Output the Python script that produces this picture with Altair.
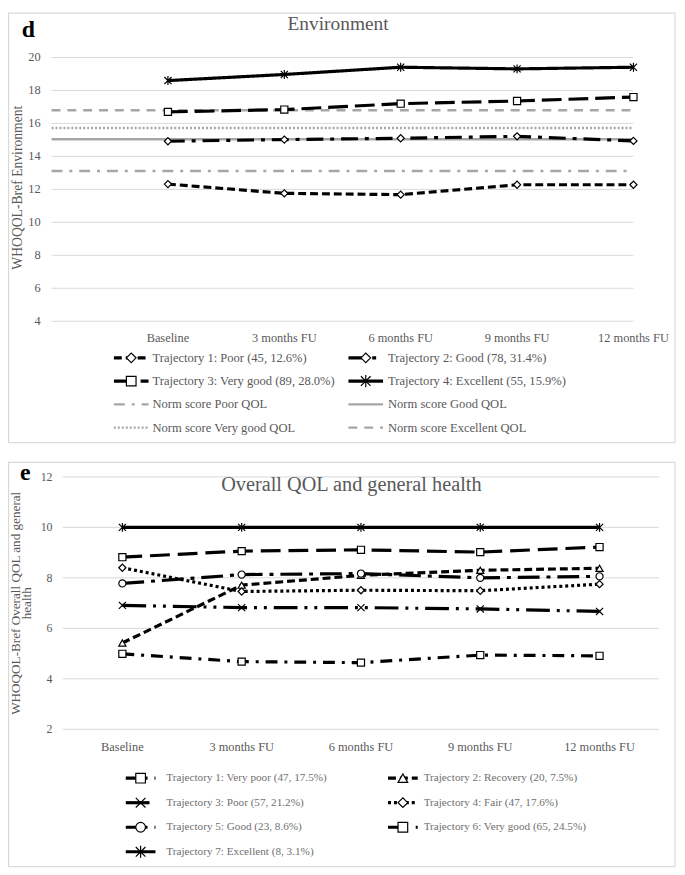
import altair as alt
import pandas as pd

FONT = "Liberation Serif"
GREY = "#595959"
LIGHT_TEXT = "#6f6f6f"
GRID = "#d9d9d9"
BORDER = "#d9d9d9"
NORM_GREY = "#a6a6a6"

timepoints = ["Baseline", "3 months FU", "6 months FU", "9 months FU", "12 months FU"]

# ---------------- Panel d: Environment ----------------
env_traj = [
    "Trajectory 1: Poor (45, 12.6%)",
    "Trajectory 2: Good (78, 31.4%)",
    "Trajectory 3: Very good (89, 28.0%)",
    "Trajectory 4: Excellent (55, 15.9%)",
]
env_t1 = [12.32, 11.76, 11.68, 12.28, 12.28]
env_t2 = [14.92, 15.02, 15.10, 15.22, 14.94]
env_t3 = [16.70, 16.84, 17.20, 17.36, 17.60]
env_t4 = [18.60, 18.97, 19.41, 19.31, 19.41]
env_norm = [
    "Norm score Poor QOL",
    "Norm score Good QOL",
    "Norm score Very good QOL",
    "Norm score Excellent QOL",
]
env_norm_values = [13.12, 15.04, 15.72, 16.80]
env_ticks = [4, 6, 8, 10, 12, 14, 16, 18, 20]

# ---------------- Panel e: Overall QOL and general health ----------------
oq_traj = [
    "Trajectory 1: Very poor (47, 17.5%)",
    "Trajectory 2: Recovery (20, 7.5%)",
    "Trajectory 3: Poor (57, 21.2%)",
    "Trajectory 4: Fair (47, 17.6%)",
    "Trajectory 5: Good (23, 8.6%)",
    "Trajectory 6: Very good (65, 24.5%)",
    "Trajectory 7: Excellent (8, 3.1%)",
]
oq_t1 = [4.99, 4.68, 4.64, 4.94, 4.91]
oq_t2 = [5.42, 7.71, 8.10, 8.30, 8.38]
oq_t3 = [6.91, 6.82, 6.82, 6.77, 6.67]
oq_t4 = [8.40, 7.46, 7.51, 7.49, 7.75]
oq_t5 = [7.78, 8.13, 8.17, 8.00, 8.06]
oq_t6 = [8.82, 9.06, 9.11, 9.02, 9.22]
oq_t7 = [10.0, 10.0, 10.0, 10.0, 10.0]
oq_ticks = [2, 4, 6, 8, 10, 12]

STAR = "M-1,-1L1,1M-1,1L1,-1M0,-1.25L0,1.25"
XMARK = "M-1,-1L1,1M-1,1L1,-1"

env_dash = [[8, 4], [17, 7, 4, 7], [20, 7], [1, 0], [11, 7, 3, 7], [1, 0], [2, 2], [9, 7]]
env_shape = ["diamond", "diamond", "square", STAR]
oq_dash = [[12, 7, 3, 7], [8, 4], [24, 7, 3, 7, 3, 7], [3, 3], [22, 7, 4, 7], [20, 8], [1, 0]]
oq_shape = ["square", "triangle-up", XMARK, "diamond", "circle", "square", STAR]

# ---------------- layout (pixels inside one canvas) ----------------
VIEW_W, VIEW_H = 676, 864
D_X0, D_X1, D_Y_TOP, D_Y_BOT = 44, 632, 45.5, 312
E_X0, E_X1, E_Y_TOP, E_Y_BOT = 55.3, 658, 469.3, 724.3

kind_color = alt.Scale(domain=["traj", "norm"], range=["black", NORM_GREY])
kind_width = alt.Scale(domain=["traj", "norm"], range=[3.2, 2.5])


def long_df(names, series_values, cats):
    rows = []
    for name, vals in zip(names, series_values):
        for c, v in zip(cats, vals):
            rows.append({"series": name, "kind": "traj", "cat": c, "value": v})
    return pd.DataFrame(rows)


def one_row(**kw):
    return pd.DataFrame({k: [v] for k, v in kw.items()})


def deco(text, x, y, size, weight="normal", color=GREY, align="left", baseline="alphabetic", angle=0):
    return alt.Chart(one_row(t=text)).mark_text(
        align=align, baseline=baseline, font=FONT, fontSize=size, fontWeight=weight,
        color=color, angle=angle
    ).encode(x=alt.value(x), y=alt.value(y), text="t:N")


def border(x1, x2, y1, y2):
    return alt.Chart(one_row(b=0)).mark_rect(
        fillOpacity=0, stroke=BORDER, strokeWidth=1.2
    ).encode(x=alt.value(x1), x2=alt.value(x2), y=alt.value(y1), y2=alt.value(y2))


def panel_layers(traj_names, traj_values, norm_names, norm_values, dashes, shapes,
                 x_cats, x_pad, x0, x1, y_dom, y_top, y_bot, ticks, tick_size,
                 lab_right, xlab_y, leg_start, leg_w, leg_text, leg_y0, leg_dy,
                 leg_size, leg_color):
    xs = alt.Scale(type="point", domain=x_cats, range=[x0, x1], padding=x_pad)
    ys = alt.Scale(domain=y_dom, range=[y_bot, y_top], nice=False, zero=False)
    dash_s = alt.Scale(domain=traj_names + norm_names, range=dashes)
    shape_s = alt.Scale(domain=traj_names, range=shapes)

    layers = []
    # gridlines
    grid_df = pd.DataFrame({"tick": ticks})
    layers.append(alt.Chart(grid_df).mark_rule(color=GRID, strokeWidth=1).encode(
        y=alt.Y("tick:Q", scale=ys, axis=None), x=alt.value(x0), x2=alt.value(x1)))
    # y tick labels
    layers.append(alt.Chart(grid_df).mark_text(
        align="right", baseline="middle", font=FONT, fontSize=tick_size, color=GREY
    ).encode(y=alt.Y("tick:Q", scale=ys, axis=None), x=alt.value(lab_right), text="tick:Q"))
    # x labels
    xl_df = pd.DataFrame({"cat": timepoints})
    layers.append(alt.Chart(xl_df).mark_text(
        align="center", baseline="middle", font=FONT, fontSize=12.5, color=GREY
    ).encode(x=alt.X("cat:N", scale=xs, axis=None), y=alt.value(xlab_y), text="cat:N"))
    # norm lines
    if norm_names:
        norm_df = pd.DataFrame({"series": norm_names, "kind": "norm", "value": norm_values})
        layers.append(alt.Chart(norm_df).mark_rule(strokeCap="butt").encode(
            y=alt.Y("value:Q", scale=ys, axis=None), x=alt.value(x0), x2=alt.value(x1),
            strokeDash=alt.StrokeDash("series:N", scale=dash_s, legend=None),
            color=alt.Color("kind:N", scale=kind_color, legend=None),
            strokeWidth=alt.StrokeWidth("kind:N", scale=kind_width, legend=None),
        ))
    # trajectories
    df = long_df(traj_names, traj_values, timepoints)
    layers.append(alt.Chart(df).mark_line(strokeCap="butt").encode(
        x=alt.X("cat:N", scale=xs, sort=x_cats, axis=None),
        y=alt.Y("value:Q", scale=ys, axis=None),
        strokeDash=alt.StrokeDash("series:N", scale=dash_s, legend=None),
        color=alt.Color("kind:N", scale=kind_color, legend=None),
        strokeWidth=alt.StrokeWidth("kind:N", scale=kind_width, legend=None),
    ))
    layers.append(alt.Chart(df).mark_point(
        filled=True, fill="white", stroke="black", strokeWidth=1.2, size=52, opacity=1
    ).encode(
        x=alt.X("cat:N", scale=xs, axis=None),
        y=alt.Y("value:Q", scale=ys, axis=None),
        shape=alt.Shape("series:N", scale=shape_s, legend=None),
    ))
    # legend
    names = traj_names + norm_names
    kinds = ["traj"] * len(traj_names) + ["norm"] * len(norm_names)
    leg_df = pd.DataFrame({"series": names, "kind": kinds, "idx": list(range(len(names)))})
    base = alt.Chart(leg_df).transform_calculate(
        row="floor(datum.idx / 2)", col="datum.idx % 2"
    ).transform_calculate(
        lx1=f"datum.col == 0 ? {leg_start[0]} : {leg_start[1]}",
        lt=f"datum.col == 0 ? {leg_text[0]} : {leg_text[1]}",
        ly=f"{leg_y0} + datum.row * {leg_dy}",
    ).transform_calculate(
        lx2=f"datum.lx1 + {leg_w}", lc=f"datum.lx1 + {leg_w / 2}"
    )
    layers.append(base.mark_rule(strokeCap="butt").encode(
        x=alt.X("lx1:Q", scale=None, axis=None), x2="lx2:Q",
        y=alt.Y("ly:Q", scale=None, axis=None),
        strokeDash=alt.StrokeDash("series:N", scale=dash_s, legend=None),
        color=alt.Color("kind:N", scale=kind_color, legend=None),
        strokeWidth=alt.StrokeWidth("kind:N", scale=kind_width, legend=None),
    ))
    layers.append(base.transform_filter("datum.kind == 'traj'").mark_point(
        filled=True, fill="white", stroke="black", strokeWidth=1.2, size=95, opacity=1
    ).encode(
        x=alt.X("lc:Q", scale=None, axis=None), y=alt.Y("ly:Q", scale=None, axis=None),
        shape=alt.Shape("series:N", scale=shape_s, legend=None),
    ))
    layers.append(base.mark_text(
        align="left", baseline="middle", font=FONT, fontSize=leg_size, color=leg_color
    ).encode(
        x=alt.X("lt:Q", scale=None, axis=None), y=alt.Y("ly:Q", scale=None, axis=None),
        text="series:N",
    ))
    return layers


d_layers = panel_layers(
    env_traj, [env_t1, env_t2, env_t3, env_t4], env_norm, env_norm_values, env_dash, env_shape,
    [" "] + timepoints, 0, D_X0, D_X1, [4, 20], D_Y_TOP, D_Y_BOT, env_ticks, 12.5,
    33, 329, (107, 344), 35, (146, 384), 349, 23.5, 12.7, GREY,
)
e_layers = panel_layers(
    oq_traj, [oq_t1, oq_t2, oq_t3, oq_t4, oq_t5, oq_t6, oq_t7], [], [], oq_dash, oq_shape,
    timepoints, 0.5, E_X0, E_X1, [2, 12], E_Y_TOP, E_Y_BOT, oq_ticks, 12,
    45, 742.7, (119, 384), 30, (160, 420), 773.7, 24.8, 11.3, LIGHT_TEXT,
)

decor = [
    border(0.6, 674, 0.6, 434.7),
    border(0.6, 674, 454.7, 863),
    deco("d", 14, 25, 24, "bold", "black"),
    deco("Environment", 333.5, 18, 19.6, align="center"),
    deco("WHOQOL-Bref Environment", 10.6, 177, 13.8, align="center", baseline="middle", angle=270),
    deco("e", 12, 472, 24, "bold", "black"),
    deco("Overall QOL and general health", 347, 484, 20.5, align="center"),
    deco("WHOQOL-Bref Overall QOL and general", 8, 597, 13.3, align="center", baseline="middle", angle=270),
    deco("health", 19.5, 597, 13.3, align="center", baseline="middle", angle=270),
]

chart = alt.layer(*decor[:2], *d_layers, *e_layers, *decor[2:]).resolve_scale(
    x="independent", y="independent", strokeDash="independent", shape="independent",
    color="independent", strokeWidth="independent",
).properties(width=VIEW_W, height=VIEW_H, padding=0).configure_view(strokeWidth=0)

chart.save("out.html", embed_options={"renderer": "svg", "actions": False})
